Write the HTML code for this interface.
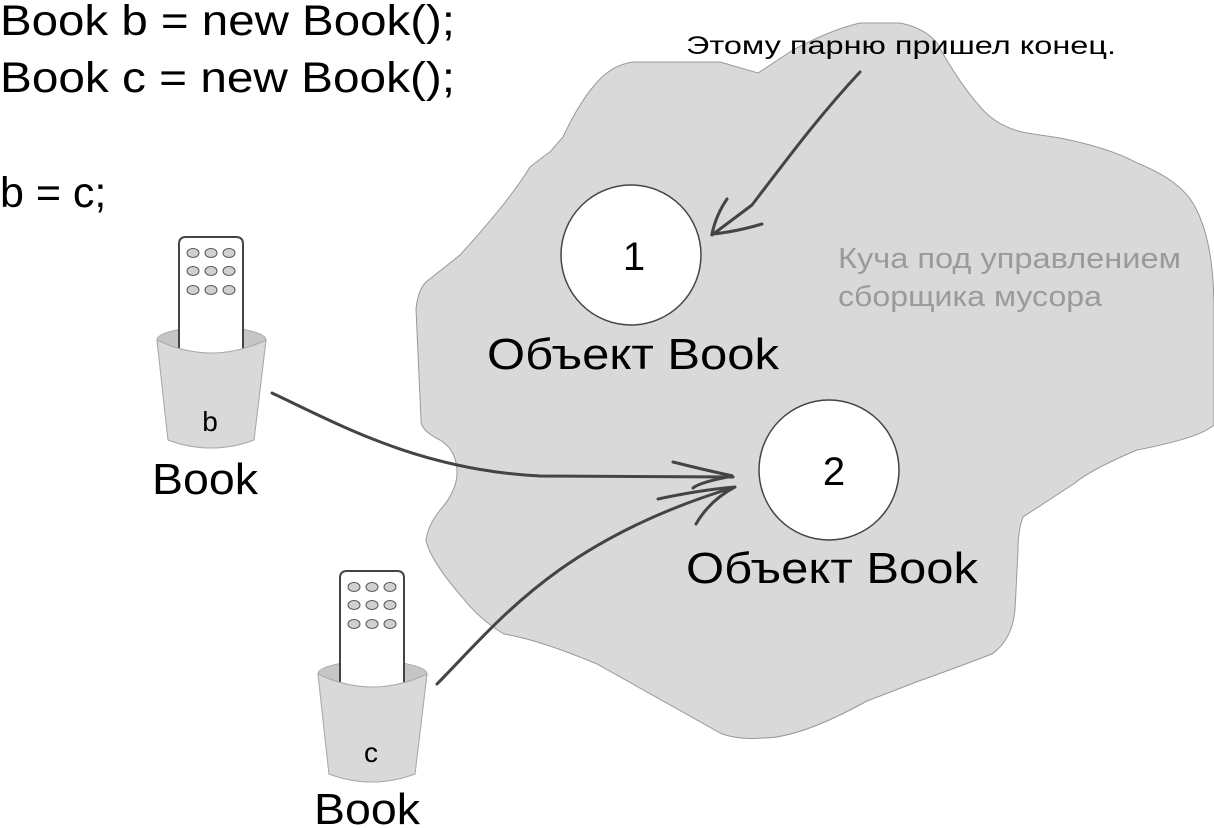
<!DOCTYPE html>
<html><head><meta charset="utf-8"><style>
html,body{margin:0;padding:0;background:#fff;}
svg{display:block;}
text{font-family:"Liberation Sans",Arial,sans-serif;}
</style></head><body>
<svg width="1214" height="828" viewBox="0 0 1214 828" xmlns="http://www.w3.org/2000/svg">
<defs>
<g id="bucket">
  <path d="M157,340 L168,440 Q211,456 254,440 L266,340 Z" fill="#d9d9d9" stroke="#aaa" stroke-width="1"/>
  <ellipse cx="211.5" cy="340" rx="54.5" ry="13" fill="#c6c6c6" stroke="#aaa" stroke-width="1"/>
  <path d="M179,360 L179,244 Q179,237 186,237 L236,237 Q243,237 243,244 L243,360" fill="#fff" stroke="#444" stroke-width="2"/>
  <g fill="#d0d0d0" stroke="#555" stroke-width="1">
    <ellipse cx="193" cy="253" rx="6" ry="4.5"/><ellipse cx="211" cy="253" rx="6" ry="4.5"/><ellipse cx="229" cy="253" rx="6" ry="4.5"/>
    <ellipse cx="193" cy="271" rx="6" ry="4.5"/><ellipse cx="211" cy="271" rx="6" ry="4.5"/><ellipse cx="229" cy="271" rx="6" ry="4.5"/>
    <ellipse cx="193" cy="290" rx="6" ry="4.5"/><ellipse cx="211" cy="290" rx="6" ry="4.5"/><ellipse cx="229" cy="290" rx="6" ry="4.5"/>
  </g>
  <path d="M157,340 Q211,366 266,340 L254,440 Q211,456 168,440 Z" fill="#d9d9d9" stroke="#aaa" stroke-width="1"/>
</g>
</defs>

<path d="M633,62 L720,62 L758,73 L793,50 Q830,30 860,23 L900,23 Q925,28 937,43 Q960,85 983,110 Q1000,128 1027,133 L1060,138 Q1110,148 1137,163 Q1180,180 1194,205 Q1214,240 1214,310 L1214,425 Q1200,438 1137,450 Q1090,470 1075,483 L1023,517 Q1018,530 1018,550 L1015,610 Q1012,640 992,654 Q950,670 919,681 L867,701 Q800,738 763,738 Q740,740 722,734 L597,664 Q540,640 504,634 Q480,620 462,597 Q430,560 426,540 Q428,525 440,510 Q458,490 457,470 Q456,450 440,440 Q420,430 421,420 L416,309 Q418,290 426,282 L460,255 Q510,200 530,167 Q545,155 550,152 L563,137 Q578,105 593,87 Q610,65 633,62 Z" fill="#d9d9d9" stroke="#999" stroke-width="1"/>

<text x="0" y="35" font-size="43" textLength="455" lengthAdjust="spacingAndGlyphs">Book b = new Book();</text>
<text x="0" y="92" font-size="43" textLength="455" lengthAdjust="spacingAndGlyphs">Book c = new Book();</text>
<text x="0" y="207" font-size="43">b = c;</text>

<text x="686" y="54" font-size="25" textLength="430" lengthAdjust="spacingAndGlyphs">Этому парню пришел конец.</text>

<circle cx="631" cy="255" r="70" fill="#fff" stroke="#444" stroke-width="1.5"/>
<text x="634" y="270" font-size="40" text-anchor="middle">1</text>
<text x="633" y="369" font-size="44" text-anchor="middle" textLength="292" lengthAdjust="spacingAndGlyphs">Объект Book</text>

<circle cx="829" cy="470" r="70" fill="#fff" stroke="#444" stroke-width="1.5"/>
<text x="834" y="485" font-size="40" text-anchor="middle">2</text>
<text x="832" y="583" font-size="44" text-anchor="middle" textLength="292" lengthAdjust="spacingAndGlyphs">Объект Book</text>

<text x="838" y="268" font-size="29" fill="#9a9a9a" textLength="343" lengthAdjust="spacingAndGlyphs">Куча под управлением</text>
<text x="838" y="306" font-size="29" fill="#9a9a9a" textLength="264" lengthAdjust="spacingAndGlyphs">сборщика мусора</text>

<g fill="none" stroke="#444" stroke-width="3" stroke-linecap="round">
  <path d="M860,72 C820,115 790,155 752,205 L712,235"/>
  <path d="M727,199 Q716,215 712,234 Q735,232 762,224"/>
  <path d="M272,393 C340,425 420,470 540,476 L733,477"/>
  <path d="M673,462 Q705,470 733,476 Q700,482 693,488"/>
  <path d="M437,684 C500,620 560,540 735,487"/>
  <path d="M658,499 Q700,490 735,487 Q710,500 696,524"/>
</g>

<use href="#bucket"/>
<text x="210" y="431" font-size="28" text-anchor="middle">b</text>
<text x="205" y="494" font-size="44" text-anchor="middle" textLength="106" lengthAdjust="spacingAndGlyphs">Book</text>

<use href="#bucket" transform="translate(161,334)"/>
<text x="371" y="762" font-size="28" text-anchor="middle">c</text>
<text x="367" y="824" font-size="44" text-anchor="middle" textLength="106" lengthAdjust="spacingAndGlyphs">Book</text>
</svg>
</body></html>
